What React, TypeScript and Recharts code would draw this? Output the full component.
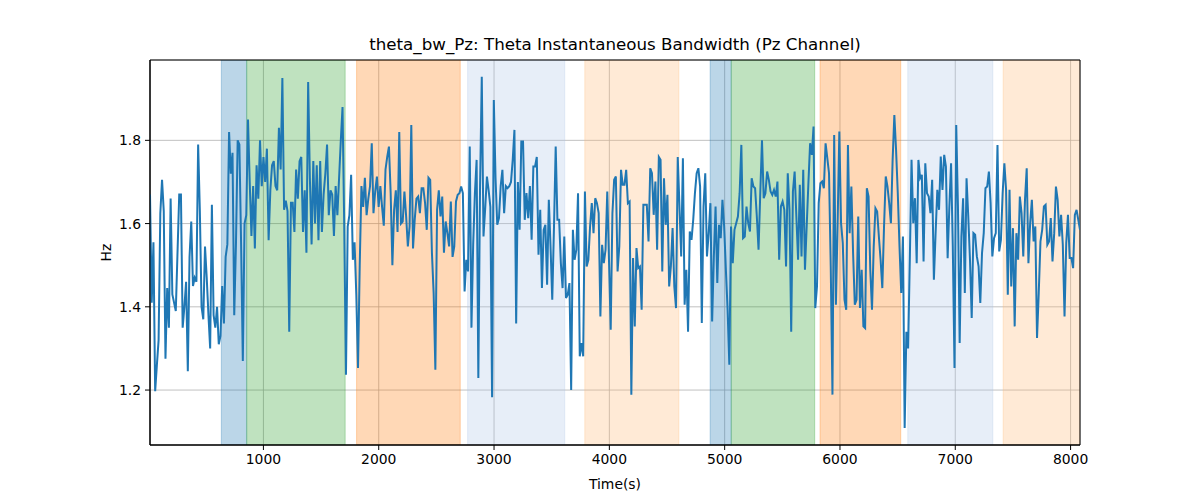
import React from 'react';
import { LineChart, Line, XAxis, YAxis, CartesianGrid, ReferenceArea } from 'recharts';

const TITLE = 'theta_bw_Pz: Theta Instantaneous Bandwidth (Pz Channel)';
const T_START = 16.4;
const T_END = 8081.6;
const Y_MIN = 1.068;
const Y_MAX = 1.993;
const X_TICKS = [1000, 2000, 3000, 4000, 5000, 6000, 7000, 8000];
const Y_TICKS = [1.2, 1.4, 1.6, 1.8];

const seg1 = [1.67, 1.41, 1.555, 1.197, 1.26, 1.32, 1.625, 1.705, 1.63, 1.275, 1.445, 1.35, 1.66, 1.43, 1.41, 1.39, 1.53, 1.67, 1.67, 1.35, 1.40, 1.46, 1.245, 1.52, 1.605, 1.45, 1.47, 1.46, 1.79, 1.63, 1.40, 1.37, 1.545, 1.47, 1.38, 1.30, 1.645, 1.38, 1.35, 1.40, 1.31, 1.33, 1.45, 1.36, 1.52, 1.55, 1.82, 1.72, 1.77, 1.38, 1.55, 1.80, 1.79];
const seg2 = [1.55, 1.27, 1.60, 1.62, 1.85, 1.70, 1.57, 1.69, 1.54, 1.74, 1.66, 1.80, 1.69, 1.76, 1.70, 1.78, 1.56, 1.68, 1.74, 1.75, 1.69, 1.68, 1.83, 1.73, 1.95, 1.633, 1.655, 1.63, 1.34, 1.65, 1.65, 1.58, 1.73, 1.66, 1.75, 1.76, 1.58, 1.68, 1.53, 1.94, 1.71, 1.55, 1.75, 1.60, 1.74, 1.56, 1.75, 1.58, 1.67, 1.72, 1.79, 1.62, 1.68, 1.67, 1.57, 1.69];
const seg3 = [1.62, 1.71, 1.80, 1.88, 1.59, 1.237, 1.593, 1.62, 1.717, 1.513, 1.555, 1.43, 1.253, 1.50, 1.69, 1.64, 1.71, 1.62, 1.66, 1.69, 1.793, 1.625, 1.677, 1.713, 1.64, 1.69, 1.64, 1.595, 1.73, 1.76, 1.785, 1.673, 1.50, 1.633, 1.68, 1.58, 1.82, 1.60, 1.605, 1.677, 1.617, 1.545, 1.593, 1.837, 1.54, 1.61, 1.66, 1.665, 1.625, 1.685, 1.685, 1.65, 1.585, 1.71, 1.705, 1.53, 1.433, 1.249];
const seg4 = [1.633, 1.68, 1.617, 1.665, 1.53, 1.605, 1.577, 1.545, 1.653, 1.52, 1.545, 1.653, 1.669, 1.673, 1.689, 1.673, 1.437, 1.513, 1.485, 1.785, 1.35, 1.55, 1.673, 1.753, 1.229, 1.69, 1.953, 1.569, 1.637, 1.713, 1.68, 1.64, 1.183, 1.897, 1.71, 1.597, 1.613, 1.69, 1.729, 1.625, 1.69, 1.685, 1.69, 1.70, 1.753, 1.825, 1.36, 1.70, 1.585, 1.797, 1.797, 1.609, 1.673, 1.613, 1.69, 1.561, 1.737];
const seg5 = [1.737, 1.76, 1.525, 1.633, 1.445, 1.585, 1.597, 1.453, 1.657, 1.545, 1.417, 1.59, 1.785, 1.609, 1.609, 1.505, 1.445, 1.569, 1.421, 1.429, 1.457, 1.20, 1.585, 1.513, 1.537, 1.673, 1.281, 1.313, 1.281, 1.677, 1.497, 1.513, 1.593, 1.649, 1.577, 1.661, 1.649, 1.625, 1.377, 1.549, 1.505, 1.537, 1.677, 1.513, 1.345, 1.625, 1.705, 1.713, 1.485, 1.545, 1.729, 1.693];
const seg6 = [1.693, 1.729, 1.649, 1.653, 1.189, 1.517, 1.353, 1.541, 1.493, 1.497, 1.393, 1.645, 1.645, 1.645, 1.557, 1.733, 1.721, 1.621, 1.701, 1.537, 1.76, 1.753, 1.485, 1.709, 1.597, 1.669, 1.449, 1.497, 1.589, 1.449, 1.397, 1.76, 1.641, 1.521, 1.757, 1.405, 1.489, 1.34, 1.581, 1.561, 1.609, 1.673, 1.721, 1.733, 1.689, 1.361, 1.641, 1.721, 1.521, 1.577, 1.649, 1.365, 1.521, 1.641, 1.457];
const seg7 = [1.597, 1.565, 1.657, 1.593, 1.489, 1.393, 1.261, 1.593, 1.505, 1.585, 1.601, 1.617, 1.673, 1.789, 1.565, 1.569, 1.641, 1.601, 1.581, 1.709, 1.689, 1.685, 1.617, 1.537, 1.673, 1.80, 1.661, 1.673, 1.725, 1.705, 1.677, 1.669, 1.681, 1.665, 1.701, 1.513, 1.641, 1.653, 1.633, 1.497, 1.721, 1.633, 1.34, 1.677, 1.725, 1.617, 1.513, 1.693, 1.521, 1.729, 1.489, 1.593, 1.697, 1.793, 1.765];
const seg8 = [1.833, 1.397, 1.449, 1.649, 1.697, 1.701, 1.685, 1.793, 1.757, 1.721, 1.497, 1.189, 1.813, 1.405, 1.60, 1.821, 1.601, 1.553, 1.417, 1.393, 1.789, 1.577, 1.689, 1.529, 1.405, 1.417, 1.617, 1.397, 1.489, 1.353, 1.349, 1.685, 1.665, 1.489, 1.393, 1.545, 1.637, 1.629, 1.569, 1.513, 1.445, 1.593, 1.713, 1.689, 1.649, 1.601, 1.753, 1.861, 1.777, 1.673, 1.545, 1.433, 1.569, 1.109, 1.34];
const seg9 = [1.30, 1.513, 1.753, 1.601, 1.661, 1.505, 1.753, 1.709, 1.717, 1.509, 1.745, 1.673, 1.665, 1.625, 1.705, 1.465, 1.577, 1.681, 1.633, 1.761, 1.681, 1.765, 1.737, 1.517, 1.641, 1.745, 1.545, 1.253, 1.837, 1.641, 1.313, 1.569, 1.661, 1.433, 1.709, 1.617, 1.513, 1.373, 1.577, 1.573, 1.521, 1.497, 1.409, 1.529, 1.577, 1.685, 1.689, 1.725, 1.649, 1.521, 1.565, 1.577, 1.789, 1.533, 1.561];
const seg10 = [1.673, 1.745, 1.681, 1.429, 1.681, 1.449, 1.589, 1.353, 1.577, 1.513, 1.665, 1.625, 1.521, 1.657, 1.733, 1.505, 1.601, 1.657, 1.557, 1.593, 1.325, 1.433, 1.557, 1.585, 1.641, 1.645, 1.549, 1.557, 1.613, 1.509, 1.577, 1.689, 1.657, 1.569, 1.621, 1.549, 1.377, 1.553, 1.621, 1.517, 1.517, 1.493, 1.621, 1.633, 1.609, 1.585];

const bandwidth = [...seg1, ...seg2, ...seg3, ...seg4, ...seg5, ...seg6, ...seg7, ...seg8, ...seg9, ...seg10];

const spanStarts = [635, 855, 1808, 2771, 3787, 4874, 5057, 5827, 6588, 7415];
const spanEnds = [855, 1709, 2707, 3613, 4603, 5057, 5781, 6527, 7326, 8082];
const spanColors = ['#1f77b4', '#2ca02c', '#ff7f0e', '#aec7e8', '#ffbb78', '#1f77b4', '#2ca02c', '#ff7f0e', '#aec7e8', '#ffbb78'];

const step = (T_END - T_START) / (bandwidth.length - 1);
const data = bandwidth.map((v, i) => ({ t: T_START + i * step, v }));

const FONT = 'DejaVu Sans, sans-serif';

export default function App() {
  return (
    <div style={{ position: 'absolute', left: 0, top: 0, width: 1200, height: 500, background: '#fff', fontFamily: FONT }}>
      <div style={{ position: 'absolute', left: 150, width: 930, top: 34, textAlign: 'center', fontSize: 16.7, color: '#000', lineHeight: '20px' }}>
        {TITLE}
      </div>
      <LineChart width={1200} height={500} data={data} margin={{ top: 60, right: 120, bottom: 0, left: 0 }} style={{ fontFamily: FONT }}>
        <CartesianGrid stroke="#b0b0b0" strokeWidth={0.8} />
        {spanStarts.map((s, i) => (
          <ReferenceArea key={i} x1={s} x2={spanEnds[i]} fill={spanColors[i]} fillOpacity={0.3} stroke={spanColors[i]} strokeOpacity={0.3} ifOverflow="hidden" />
        ))}
        <XAxis dataKey="t" type="number" domain={[T_START, T_END]} ticks={X_TICKS} allowDataOverflow height={55}
          tick={{ fill: '#000', fontSize: 13.9 }} tickSize={5} tickMargin={4} stroke="#000"
          label={{ value: 'Time(s)', position: 'insideBottom', offset: 11, fill: '#000', fontSize: 13.9 }} />
        <YAxis type="number" domain={[Y_MIN, Y_MAX]} ticks={Y_TICKS} allowDataOverflow width={150}
          tick={{ fill: '#000', fontSize: 13.9 }} tickSize={5} tickMargin={4} stroke="#000" tickFormatter={(v) => v.toFixed(1)}
          label={{ value: 'Hz', angle: -90, position: 'center', dx: 31, fill: '#000', fontSize: 13.9 }} />
        <Line type="linear" dataKey="v" stroke="#1f77b4" strokeWidth={2} dot={false} isAnimationActive={false} />
        <ReferenceArea x1={T_START} x2={T_END} y1={Y_MIN} y2={Y_MAX} fill="none" stroke="#000" strokeWidth={1} ifOverflow="extendDomain" />
      </LineChart>
    </div>
  );
}
